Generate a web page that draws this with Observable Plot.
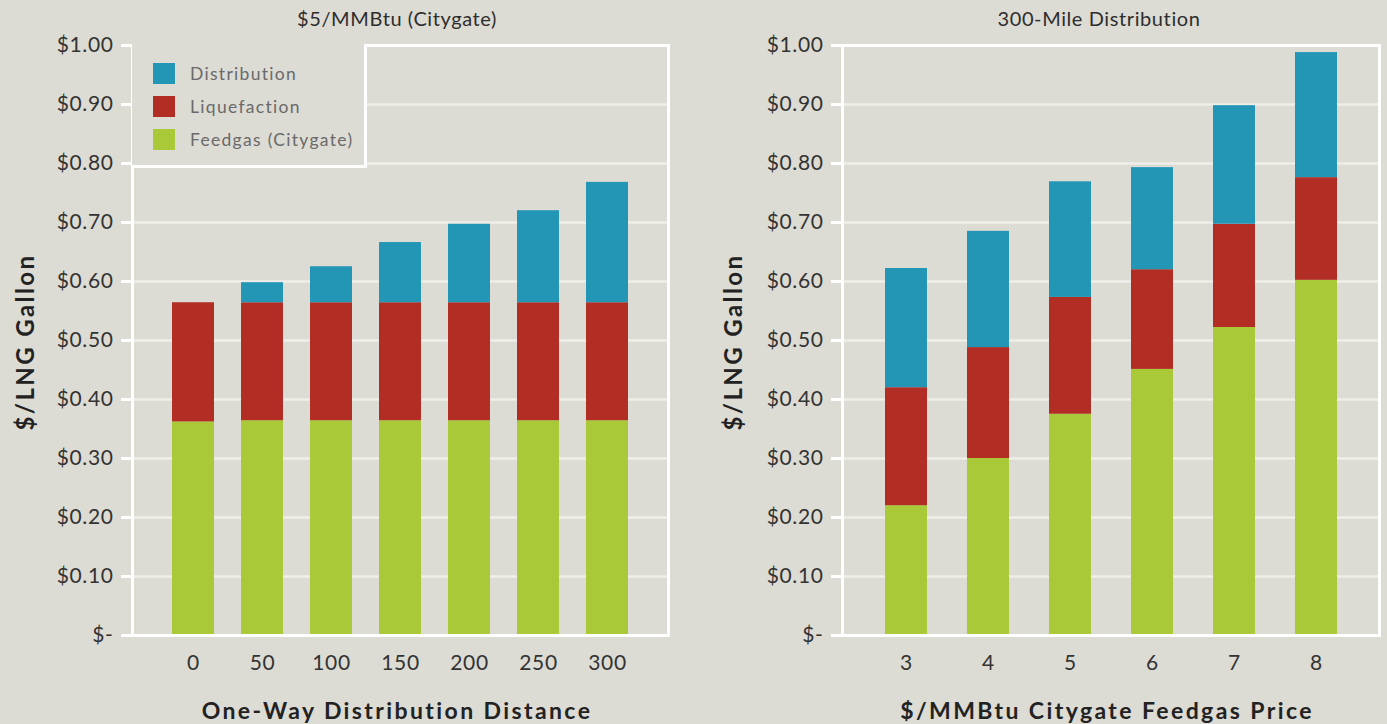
<!DOCTYPE html>
<html>
<head>
<meta charset="utf-8">
<script src="https://cdn.jsdelivr.net/npm/d3@7"></script>
<script src="https://cdn.jsdelivr.net/npm/@observablehq/plot@0.6"></script>
<style>
  html, body { margin: 0; padding: 0; background: #dcdbd4; }
  #wrap { position: relative; width: 1387px; height: 724px; overflow: hidden; background: #dcdbd4; font-family: Lato, "Open Sans", sans-serif; }
  .panel { position: absolute; top: 0; }
  .lbl { position: absolute; transform: translate(-50%, -50%); white-space: nowrap; color: #333; }
  .title { font-size: 20px; font-weight: 400; letter-spacing: 0.6px; color: #2e2e2e; }
  .xtitle { font-size: 23px; font-weight: 700; letter-spacing: 2.4px; color: #222; }
  .ytitle { font-size: 24px; font-weight: 700; letter-spacing: 2.4px; color: #222; transform: translate(-50%, -50%) rotate(-90deg); }
  #legend { position: absolute; left: 132px; top: 44px; width: 232px; height: 121px; background: #dcdbd4; border-right: 3px solid #fff; border-bottom: 3px solid #fff; }
  .item { position: absolute; left: 21px; height: 21px; display: flex; align-items: center; }
  .sw { width: 22px; height: 21px; margin-right: 15px; }
  .item span { font-size: 17.5px; color: #6a6a6a; letter-spacing: 1.3px; }
</style>
</head>
<body>
<div id="wrap"></div>
<script>
// ---- data ----
const seriesNames = ["Distribution", "Liquefaction", "Feedgas (Citygate)"];
const seriesColors = ["#2396b6", "#b22e25", "#a9c938"];
const stackOrder = ["Feedgas (Citygate)", "Liquefaction", "Distribution"];

const distances = [0, 50, 100, 150, 200, 250, 300];
const leftFeedgas = [0.362, 0.364, 0.364, 0.364, 0.364, 0.364, 0.364];
const leftLiquefaction = [0.202, 0.200, 0.200, 0.200, 0.200, 0.200, 0.200];
const leftDistribution = [0.000, 0.034, 0.061, 0.102, 0.133, 0.156, 0.204];

const prices = [3, 4, 5, 6, 7, 8];
const rightFeedgas = [0.220, 0.300, 0.375, 0.451, 0.522, 0.602];
const rightLiquefaction = [0.200, 0.188, 0.198, 0.169, 0.175, 0.174];
const rightDistribution = [0.202, 0.197, 0.196, 0.173, 0.201, 0.212];

const yTicks = [0, 0.1, 0.2, 0.3, 0.4, 0.5, 0.6, 0.7, 0.8, 0.9, 1.0];

const leftTitle = "$5/MMBtu (Citygate)";
const rightTitle = "300-Mile Distribution";
const leftXTitle = "One-Way Distribution Distance";
const rightXTitle = "$/MMBtu Citygate Feedgas Price";
const yTitle = "$/LNG Gallon";

function toRows(cats, feed, liq, dist) {
  const rows = [];
  cats.forEach((c, i) => {
    rows.push({cat: c, series: "Feedgas (Citygate)", value: feed[i]});
    rows.push({cat: c, series: "Liquefaction", value: liq[i]});
    rows.push({cat: c, series: "Distribution", value: dist[i]});
  });
  return rows;
}

function panel(cats, rows, opts) {
  return Plot.plot({
    width: opts.width,
    height: 724,
    marginLeft: opts.marginLeft,
    marginRight: opts.marginRight,
    marginTop: 45,
    marginBottom: 89,
    style: {background: "transparent", color: "#333", fontFamily: "Lato, 'Open Sans', sans-serif", fontSize: "21px", overflow: "visible"},
    x: {type: "band", domain: cats, paddingInner: opts.pi, paddingOuter: opts.po, align: 0.5, label: null},
    y: {domain: [0, 1], label: null},
    color: {domain: seriesNames, range: seriesColors},
    marks: [
      Plot.gridY(yTicks, {stroke: "#efeee9", strokeWidth: 2.5, strokeOpacity: 1}),
      Plot.barY(rows, {x: "cat", y: "value", fill: "series", order: stackOrder}),
      Plot.frame({stroke: "#ffffff", strokeWidth: 3}),
      Plot.axisY(yTicks, {
        tickSize: 11, tickPadding: 8, stroke: "#ffffff", strokeWidth: 3, fill: "#333",
        fontSize: 21, label: null,
        tickFormat: d => d === 0 ? "$-" : "$" + d.toFixed(2)
      }),
      Plot.axisX({tickSize: 0, tickPadding: 20, fontSize: 21, fill: "#333", label: null})
    ]
  });
}

const wrap = document.getElementById("wrap");

const left = panel(distances, toRows(distances, leftFeedgas, leftLiquefaction, leftDistribution),
  {width: 700, marginLeft: 132, marginRight: 32, pi: 0.39, po: 0.565});
left.classList.add("panel");
left.style.left = "0px";
left.querySelectorAll("text").forEach(t => t.style.letterSpacing = "0.6px");
wrap.appendChild(left);

const right = panel(prices, toRows(prices, rightFeedgas, rightLiquefaction, rightDistribution),
  {width: 687, marginLeft: 142, marginRight: 8, pi: 0.488, po: 0.488});
right.classList.add("panel");
right.style.left = "700px";
right.querySelectorAll("text").forEach(t => t.style.letterSpacing = "0.6px");
wrap.appendChild(right);

function label(text, cls, x, y) {
  const d = document.createElement("div");
  d.className = "lbl " + cls;
  d.textContent = text;
  d.style.left = x + "px";
  d.style.top = y + "px";
  wrap.appendChild(d);
}
label(leftTitle, "title", 397, 18);
label(rightTitle, "title", 1099, 18);
label(leftXTitle, "xtitle", 397, 710);
label(rightXTitle, "xtitle", 1107, 710);
label(yTitle, "ytitle", 24, 342);
label(yTitle, "ytitle", 732, 342);

// legend
const lg = document.createElement("div");
lg.id = "legend";
const legendTops = [19, 52, 85];
seriesNames.forEach((s, i) => {
  const it = document.createElement("div");
  it.className = "item";
  it.style.top = legendTops[i] + "px";
  const sw = document.createElement("div");
  sw.className = "sw";
  sw.style.background = seriesColors[i];
  const t = document.createElement("span");
  t.textContent = s;
  it.appendChild(sw);
  it.appendChild(t);
  lg.appendChild(it);
});
wrap.appendChild(lg);
</script>
</body>
</html>
